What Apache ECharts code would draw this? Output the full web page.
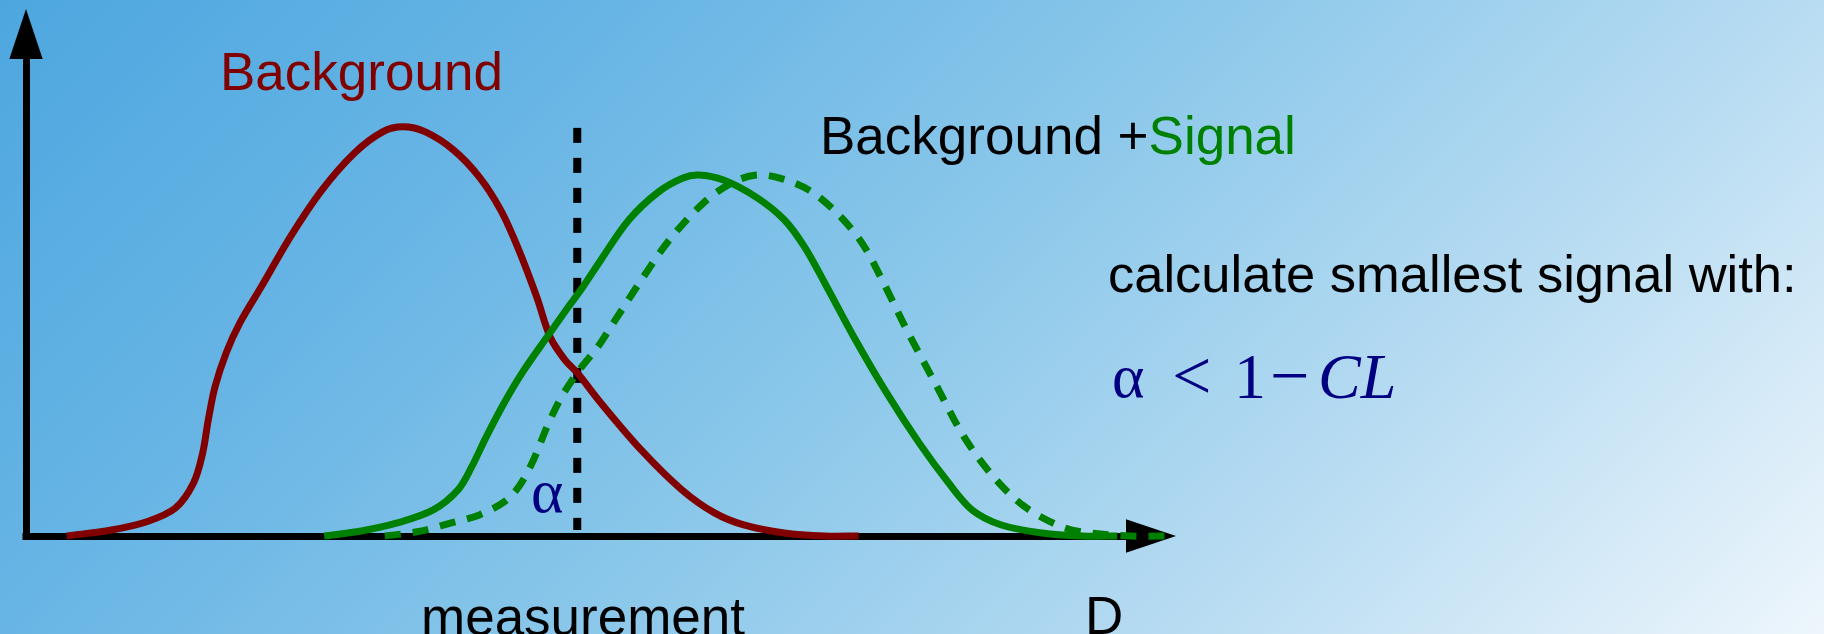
<!DOCTYPE html>
<html>
<head>
<meta charset="utf-8">
<title>Background vs Background + Signal</title>
<script src="https://cdn.jsdelivr.net/npm/echarts@6/dist/echarts.min.js"></script>
<style>
  html, body { margin: 0; padding: 0; }
  #chart { width: 1824px; height: 634px; }
</style>
</head>
<body>
<div id="chart"></div>
<script>
// Test statistic D on the x axis (0..100), probability density on the y axis (0..100)
const backgroundCurve = [
  [3.6, 0], [7.6, 1.2], [10.8, 2.9], [13.3, 5.6], [14.9, 10.6], [15.7, 16.5],
  [16.2, 23.1], [16.8, 29.7], [17.8, 36.5], [19.0, 42.4], [20.9, 49.6],
  [23.5, 59.6], [26.3, 68.9], [29.2, 76.3], [31.7, 80.5], [33.5, 81.5],
  [35.5, 80.5], [38.0, 76.9], [40.3, 71.5], [42.2, 64.9], [43.8, 57.0],
  [45.4, 47.6], [46.6, 39.6], [47.9, 35.1], [49.0, 32.5], [51.1, 26.5],
  [54.7, 17.1], [58.3, 9.2], [61.2, 4.6], [63.8, 2.2], [67.4, 0.6],
  [71.0, 0], [74.0, 0]
];

const signalCurve = [
  [26.5, 0], [29.8, 1.0], [33.0, 2.6], [36.2, 5.2], [38.4, 9.2], [39.6, 13.7],
  [40.9, 19.7], [42.5, 26.5], [44.1, 32.5], [46.3, 39.6], [48.2, 45.6],
  [49.5, 49.6], [51.1, 55.0], [53.6, 63.0], [56.2, 68.5], [58.4, 71.3],
  [59.8, 71.9], [62.0, 70.9], [64.9, 67.5], [67.4, 63.0], [69.2, 57.6],
  [71.0, 50.4], [73.6, 39.6], [76.5, 28.5], [79.4, 18.5], [82.0, 10.6],
  [84.1, 5.2], [86.7, 2.2], [90.3, 0.6], [93.9, 0], [97.0, 0]
];

const shiftedSignalCurve = [
  [31.9, 0], [34.9, 0.9], [37.8, 2.6], [40.3, 4.2], [42.5, 6.8], [43.8, 9.8],
  [45.1, 15.1], [46.3, 21.7], [47.6, 27.7], [49.2, 33.1], [50.8, 37.6],
  [52.2, 42.4], [54.7, 51.0], [57.2, 59.0], [60.2, 66.3], [62.7, 70.3],
  [64.9, 71.9], [67.0, 71.3], [69.6, 68.9], [72.1, 64.3], [74.3, 58.4],
  [76.1, 51.0], [78.3, 41.0], [80.8, 30.5], [83.4, 19.7], [86.0, 11.8],
  [88.8, 5.8], [92.1, 1.8], [94.6, 0.6], [98.2, 0], [102.2, 0]
];

// measured value of D (cut line)
const measurementLine = [[49.0, 81.3], [49.0, 1.2]];

const axisRange = [0, 100];

const RED = '#800000';
const GREEN = '#008000';
const NAVY = '#000080';
const SANS = '"Liberation Sans", Arial, Helvetica, sans-serif';
const SERIF = '"Liberation Serif", "Times New Roman", serif';

const chart = echarts.init(document.getElementById('chart'), null, { renderer: 'canvas' });

const arrowHead = 'path://M10,0 L20,30 L0,30 Z';

const axisCommon = {
  type: 'value',
  min: axisRange[0],
  max: axisRange[1],
  splitLine: { show: false },
  axisTick: { show: false },
  axisLabel: { show: false },
  axisLine: {
    show: true,
    symbol: ['none', arrowHead],
    symbolSize: [34, 50],
    lineStyle: { color: '#000', width: 7, cap: 'square' }
  }
};

// Smooth cubic path through pixel points (Catmull-Rom style tangents,
// weighted by the lengths of the neighbouring segments).
function smoothPathData(pts) {
  const n = pts.length;
  const tan = pts.map(function (p, i) {
    const a = pts[Math.max(i - 1, 0)];
    const b = pts[Math.min(i + 1, n - 1)];
    return [b[0] - a[0], b[1] - a[1]];
  });
  const dist = function (a, b) { return Math.hypot(b[0] - a[0], b[1] - a[1]); };
  let d = 'M' + pts[0][0] + ' ' + pts[0][1];
  for (let i = 0; i < n - 1; i++) {
    const p1 = pts[i], p2 = pts[i + 1];
    const len = dist(p1, p2);
    const l1 = i > 0 ? dist(pts[i - 1], p1) + len : len;
    const l2 = i + 2 < n ? len + dist(p2, pts[i + 2]) : len;
    const k1 = (len / l1) / 3;
    const k2 = (len / l2) / 3;
    const c1 = [p1[0] + tan[i][0] * k1, p1[1] + tan[i][1] * k1];
    const c2 = [p2[0] - tan[i + 1][0] * k2, p2[1] - tan[i + 1][1] * k2];
    d += ' C' + c1[0] + ' ' + c1[1] + ' ' + c2[0] + ' ' + c2[1] + ' ' + p2[0] + ' ' + p2[1];
  }
  return d;
}

function curveSeries(name, curve, color, dash, z) {
  return {
    name: name,
    type: 'custom',
    coordinateSystem: 'cartesian2d',
    data: [curve[0]],
    clip: false,
    silent: true,
    z: z,
    renderItem: function (params, api) {
      const pts = curve.map(function (p) { return api.coord(p); });
      return {
        type: 'path',
        shape: { pathData: smoothPathData(pts) },
        style: { fill: 'none', stroke: color, lineWidth: 7, lineDash: dash, lineCap: 'butt', lineJoin: 'round' }
      };
    }
  };
}

// pieces of the formula "α < 1−CL"
const formulaParts = [
  { text: 'α', x: 1112, font: '62px ' + SERIF },
  { text: '<', x: 1172, font: '70px ' + SERIF },
  { text: '1', x: 1234, font: '64px ' + SERIF },
  { text: '−', x: 1270, font: '70px ' + SERIF },
  { text: 'CL', x: 1318, font: 'italic 64px ' + SERIF }
];

const option = {
  animation: false,
  backgroundColor: new echarts.graphic.LinearGradient(0, 0, 1229, 1229, [
    { offset: 0, color: '#4da7df' },
    { offset: 0.26, color: '#68b5e5' },
    { offset: 0.5, color: '#8cc8ea' },
    { offset: 0.74, color: '#b8dcf2' },
    { offset: 1, color: '#eef6fc' }
  ], true),
  grid: { left: 26, right: 673, top: 34, bottom: 98, containLabel: false },
  xAxis: axisCommon,
  yAxis: axisCommon,
  series: [
    {
      name: 'measurement',
      type: 'line',
      data: measurementLine,
      showSymbol: false,
      symbol: 'none',
      lineStyle: { color: '#000', width: 8, type: [15, 15] },
      z: 2
    },
    curveSeries('Background', backgroundCurve, RED, null, 3),
    curveSeries('Background + Signal', signalCurve, GREEN, null, 4),
    curveSeries('Background + larger Signal', shiftedSignalCurve, GREEN, [16, 12], 5)
  ],
  graphic: [
    {
      type: 'text', x: 220, y: 75, silent: true,
      style: { text: 'Background', font: '53px ' + SANS, fill: RED, align: 'left', verticalAlign: 'middle' }
    },
    {
      type: 'text', x: 820, y: 139, silent: true,
      style: {
        text: '{k|Background +}{g|Signal}',
        font: '53px ' + SANS, align: 'left', verticalAlign: 'middle',
        rich: {
          k: { fill: '#000', font: '53px ' + SANS },
          g: { fill: GREEN, font: '53px ' + SANS }
        }
      }
    },
    {
      type: 'text', x: 1108, y: 278, silent: true,
      style: { text: 'calculate smallest signal with:', font: '52.5px ' + SANS, fill: '#000', align: 'left', verticalAlign: 'middle' }
    }
  ].concat(formulaParts.map(function (p) {
    return {
      type: 'text', x: p.x, y: 381, silent: true,
      style: { text: p.text, font: p.font, fill: NAVY, align: 'left', verticalAlign: 'middle' }
    };
  })).concat([
    {
      type: 'text', x: 531, y: 496, silent: true,
      style: { text: 'α', font: '62px ' + SERIF, fill: NAVY, align: 'left', verticalAlign: 'middle' }
    },
    {
      type: 'text', x: 421, y: 620, silent: true,
      style: { text: 'measurement', font: '53px ' + SANS, fill: '#000', align: 'left', verticalAlign: 'middle' }
    },
    {
      type: 'text', x: 1085, y: 619, silent: true,
      style: { text: 'D', font: '53px ' + SANS, fill: '#000', align: 'left', verticalAlign: 'middle' }
    }
  ])
};

chart.setOption(option);
</script>
</body>
</html>
